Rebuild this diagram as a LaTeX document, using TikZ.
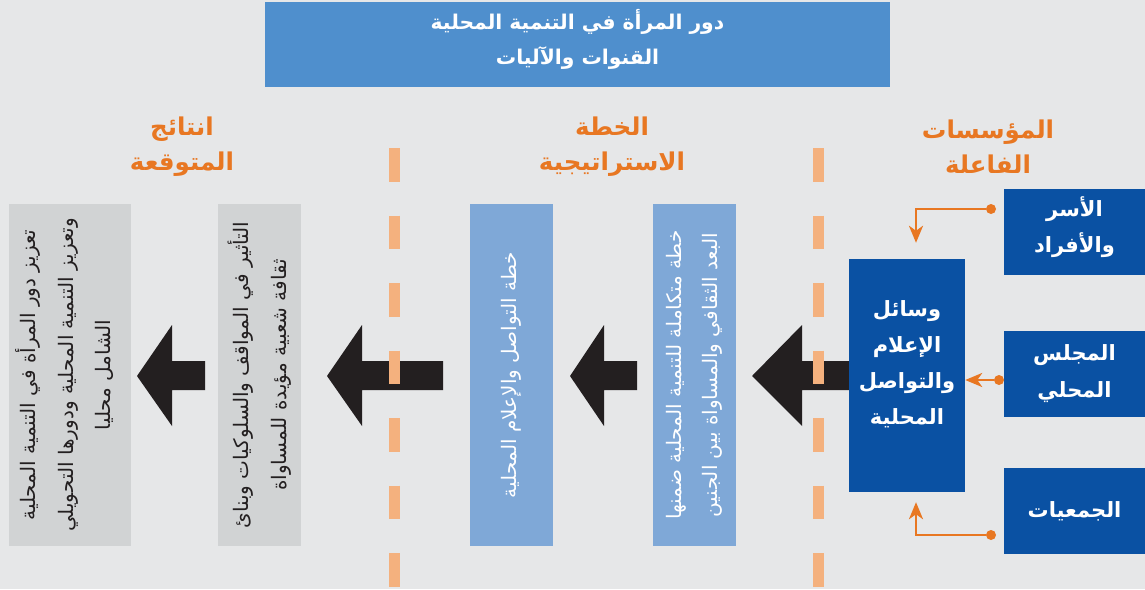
\documentclass[tikz,border=0pt]{standalone}
\usepackage{fontspec}
\usetikzlibrary{arrows.meta}
\TeXXeTstate=1
\newfontfamily\arabicfont[Script=Arabic]{DejaVu Sans}
\newcommand{\rtl}[1]{\beginR #1\endR}

\definecolor{pagegray}{HTML}{E6E7E8}
\definecolor{titleblue}{HTML}{4F8FCD}
\definecolor{headorange}{HTML}{E87722}
\definecolor{dashorange}{HTML}{F4B17E}
\definecolor{actorblue}{HTML}{0A51A3}
\definecolor{planblue}{HTML}{7FA8D7}
\definecolor{resultgray}{HTML}{D1D3D4}
\definecolor{arrowblack}{HTML}{231F20}

\tikzset{
  titlebox/.style={fill=titleblue, minimum width=625pt, minimum height=85pt},
  titletext/.style={text=white, align=center, font=\arabicfont\bfseries\fontsize{20.3}{35}\selectfont},
  heading/.style={text=headorange, align=center, font=\arabicfont\bfseries\fontsize{24.5}{35}\selectfont},
  actor/.style={fill=actorblue, text=white, minimum width=141pt, minimum height=86pt,
    align=center, font=\arabicfont\bfseries\fontsize{21}{37}\selectfont},
  actortext/.style={text=white, align=center, font=\arabicfont\bfseries\fontsize{21}{36}\selectfont},
  planbox/.style={fill=planblue, text=white, rotate=90, minimum width=342pt, minimum height=83pt,
    align=center, font=\arabicfont\fontsize{20}{36}\selectfont},
  resultbox/.style={fill=resultgray, text=arrowblack, rotate=90, minimum width=342pt,
    align=center, font=\arabicfont\fontsize{20}{37.5}\selectfont},
  link/.style={draw=headorange, line width=2.7pt, -{Stealth[length=17pt,width=14pt,inset=5pt]}},
  linkdot/.style={circle, fill=headorange, inner sep=0pt, minimum size=10pt},
  divider/.style={draw=dashorange, line width=11pt, dash pattern=on 33.75pt off 33.75pt},
}

% block arrow: tip x, head back x, tail x
\newcommand{\blockarrow}[3]{%
  \fill[arrowblack] (#1,376) -- (#2,325) -- (#2,361) -- (#3,361) -- (#3,390)
    -- (#2,390) -- (#2,426) -- cycle;}

\begin{document}
\begin{tikzpicture}[x=1pt,y=-1pt]
\fill[pagegray] (0,0) rectangle (1145,589);
\useasboundingbox (0,0) rectangle (1145,589);

% title
\node[titlebox] (title) at (577.5,44.5) {};
\node[titletext] (titlelines) at (577.5,39.5) {\rtl{دور المرأة في التنمية المحلية}\\\rtl{القنوات والآليات}};

% column headings
\node[heading] (headactors) at (988,146.5) {\rtl{المؤسسات}\\\rtl{الفاعلة}};
\node[heading] (headplan) at (612,146.5) {\rtl{الخطة}\\\rtl{الاستراتيجية}};
\node[heading] (headresult) at (182,146.5) {\rtl{انتائج}\\\rtl{المتوقعة}};

% arrows
\blockarrow{752}{802}{849}
\blockarrow{570}{604}{637}
\blockarrow{327}{362}{443}
\blockarrow{137}{172}{205}

% dividers
\draw[divider] (394,148) -- (394,589);
\draw[divider] (818.5,148) -- (818.5,589);

% actors
\node[actor] (families) at (1074.5,232) {};
\node[actortext] (famtext) at (1074.5,227) {\rtl{الأسر}\\\rtl{والأفراد}};
\node[actor] (council) at (1074.5,374) {\rtl{المجلس}\\\rtl{المحلي}};
\node[actor] (assoc) at (1074.5,511) {\rtl{الجمعيات}};
\node[actor, minimum width=116pt, minimum height=233pt] (media) at (907,375.5) {};
\node[actortext] (mediatext) at (907,364) {\rtl{وسائل}\\\rtl{الإعلام}\\\rtl{والتواصل}\\\rtl{المحلية}};

% links
\node[linkdot] (famdot) at (991,209) {};
\node[linkdot] (coudot) at (999,380) {};
\node[linkdot] (assdot) at (991,535) {};
\draw[link, shorten >=16pt] (famdot) -| ([xshift=9pt]media.north);
\draw[link] (coudot) -- (media.east |- coudot);
\draw[link, shorten >=10pt] (assdot) -| ([xshift=9pt]media.south);

% plan
\node[planbox] (plan2) at (694.5,375) {\rtl{خطة متكاملة للتنمية المحلية ضمنها}\\\rtl{البعد الثقافي والمساواة بين الجنين}};
\node[planbox] (plan1) at (511,375) {\rtl{خطة التواصل والإعلام المحلية}};

% results
\node[resultbox, minimum height=83pt] (result2) at (259.5,375) {\rtl{التأثير في المواقف والسلوكيات وبنائ}\\\rtl{ثقافة شعبية مؤيدة للمساواة}};
\node[resultbox, minimum height=122pt] (result1) at (70,375) {};
\node[resultbox, fill=none, minimum height=0pt] (result1text) at (65,375) {\rtl{تعزيز دور المرأة في التنمية المحلية}\\\rtl{وتعزيز التنمية المحلية ودورها التحويلي}\\\rtl{الشامل محليا}};
\end{tikzpicture}
\end{document}
